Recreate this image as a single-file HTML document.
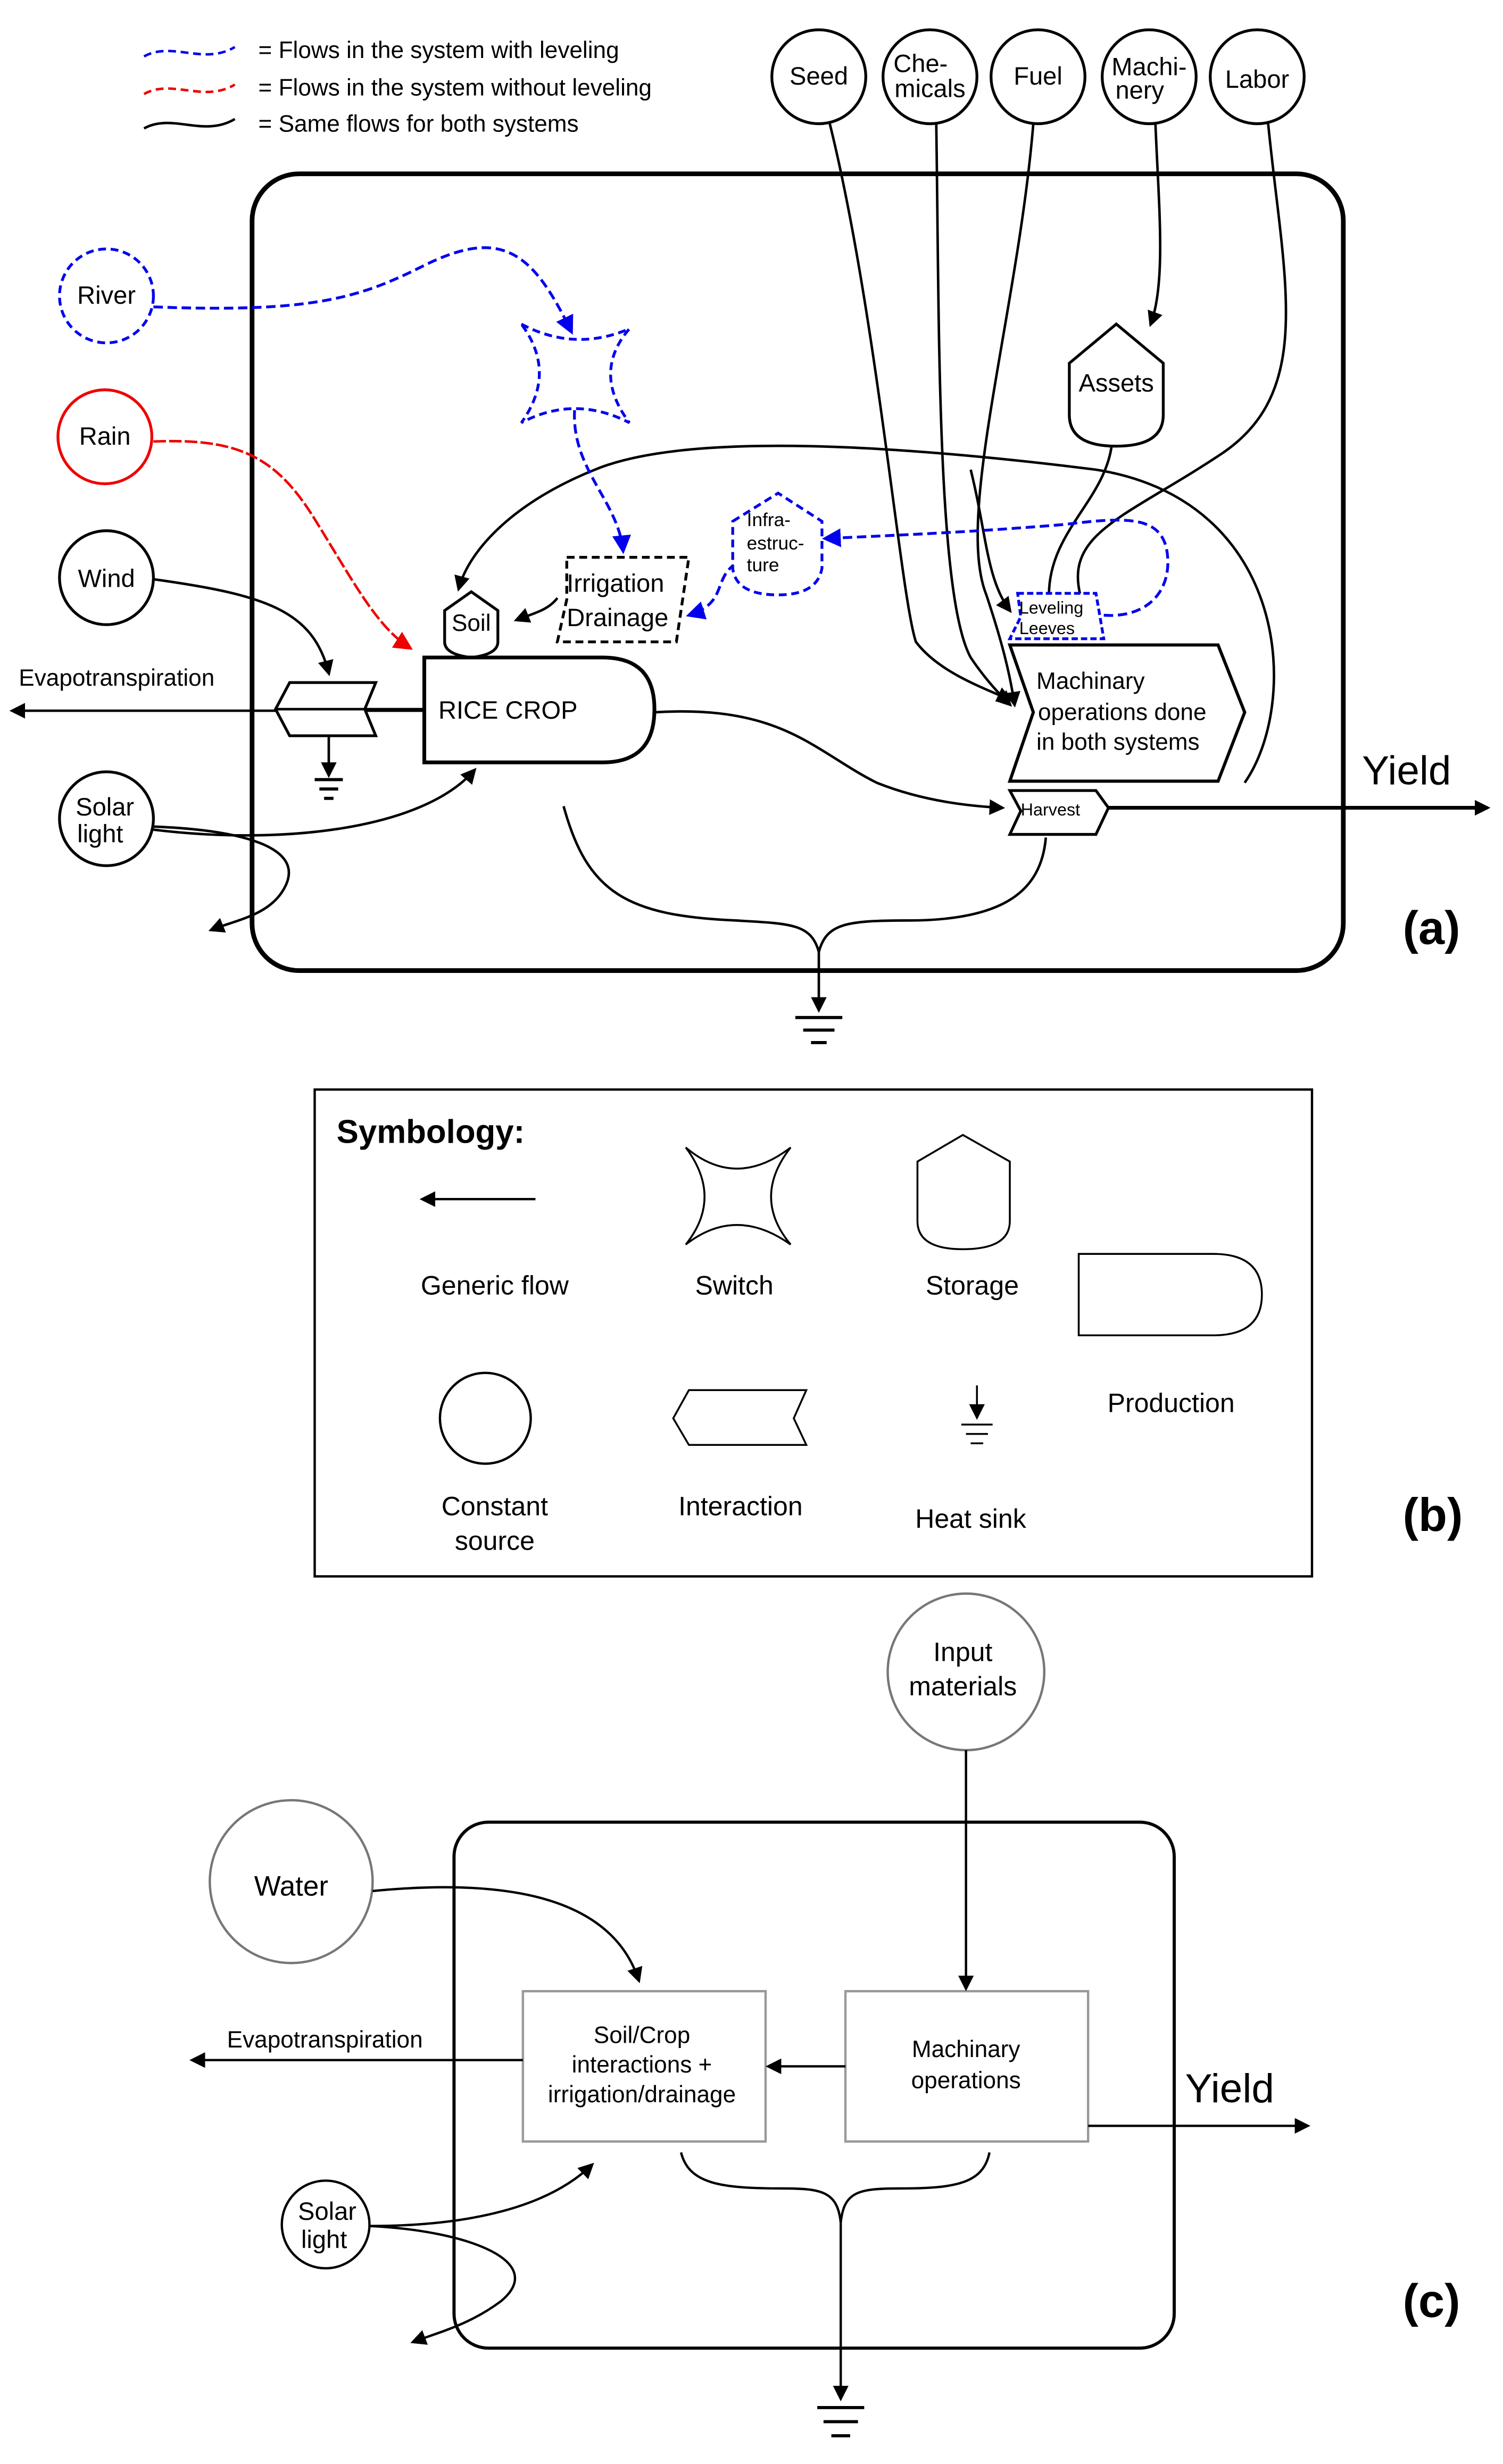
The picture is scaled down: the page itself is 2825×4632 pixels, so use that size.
<!DOCTYPE html>
<html><head><meta charset="utf-8"><style>
html,body{margin:0;padding:0;background:#fff;}
svg{display:block;}
text{font-family:"Liberation Sans",sans-serif;}
</style></head><body>
<svg width="2825" height="4632" viewBox="0 0 960 1574" xmlns="http://www.w3.org/2000/svg">
<defs>
<marker id="ak" markerWidth="10" markerHeight="10" refX="8" refY="5" orient="auto" markerUnits="userSpaceOnUse"><path d="M0,0 L10,5 L0,10 Z" fill="#000"/></marker>
<marker id="ab" markerWidth="12" markerHeight="12" refX="10" refY="6" orient="auto" markerUnits="userSpaceOnUse"><path d="M0,0 L12,6 L0,12 Z" fill="#0000ee"/></marker>
<marker id="ar" markerWidth="12" markerHeight="12" refX="10" refY="6" orient="auto" markerUnits="userSpaceOnUse"><path d="M0,0 L12,6 L0,12 Z" fill="#ee0000"/></marker>
</defs>
<g fill="none" stroke-width="1.6">
<!-- legend -->
<path d="M92,36 C110,26 130,42 150,30" stroke="#0000ee" stroke-dasharray="5,3"/>
<path d="M92,60 C110,50 130,66 150,54" stroke="#ee0000" stroke-dasharray="5,3"/>
<path d="M92,82 C110,72 130,88 150,76" stroke="#000"/>
</g>
<g font-size="15" fill="#000">
<text x="165" y="37">= Flows in the system with leveling</text>
<text x="165" y="61">= Flows in the system without leveling</text>
<text x="165" y="84">= Same flows for both systems</text>
</g>
<!-- main box -->
<rect x="161" y="111" width="697" height="509" rx="30" fill="none" stroke="#000" stroke-width="3"/>
<!-- top circles -->
<g fill="#fff" stroke="#000" stroke-width="1.8">
<circle cx="523" cy="49" r="30"/><circle cx="594" cy="49" r="30"/><circle cx="663" cy="49" r="30"/><circle cx="734" cy="49" r="30"/><circle cx="803" cy="49" r="30"/>
<circle cx="68" cy="369" r="30"/><circle cx="68" cy="523" r="30"/>
</g>
<circle cx="68" cy="189" r="30" fill="#fff" stroke="#0000ee" stroke-width="1.8" stroke-dasharray="5,3"/>
<circle cx="67" cy="279" r="30" fill="#fff" stroke="#ee0000" stroke-width="1.8"/>
<g font-size="16" text-anchor="middle">
<text x="523" y="54">Seed</text>
<text x="588" y="46">Che-</text><text x="594" y="62">micals</text>
<text x="663" y="54">Fuel</text>
<text x="734" y="48">Machi-</text><text x="728" y="63">nery</text>
<text x="803" y="56">Labor</text>
<text x="68" y="194">River</text><text x="67" y="284">Rain</text><text x="68" y="375">Wind</text>
<text x="67" y="521">Solar</text><text x="64" y="538">light</text>
</g>
<!-- black flows from top inputs -->
<g fill="none" stroke="#000" stroke-width="1.6">
<path d="M530,79 C560,200 575,380 585,410 C600,430 630,440 645,447" marker-end="url(#ak)"/>
<path d="M598,79 C600,200 598,380 620,420 C630,435 640,445 645,450" marker-end="url(#ak)"/>
<path d="M660,79 C650,200 610,330 630,380 C640,410 645,430 648,450" marker-end="url(#ak)"/>
<path d="M738,79 C740,130 745,180 735,207" marker-end="url(#ak)"/>
<path d="M810,79 C820,180 840,250 780,290 C720,330 680,340 690,380"/>
<path d="M710,285 C705,320 670,340 670,380"/>
<path d="M620,300 C630,340 630,370 645,390" marker-end="url(#ak)"/>
<!-- big loop to soil -->
<path d="M795,500 C830,450 825,320 700,300 C580,285 440,275 380,300 C330,320 300,350 293,376" marker-end="url(#ak)"/>
<!-- wind -->
<path d="M98,370 C170,380 200,390 210,430" marker-end="url(#ak)"/>
<!-- rice to harvest -->
<path d="M418,455 C500,450 520,480 560,500 C590,512 620,515 640,516" marker-end="url(#ak)"/>
<!-- solar -->
<path d="M98,530 C180,540 270,530 303,492" marker-end="url(#ak)"/>
<path d="M98,528 C150,530 200,540 180,570 C170,585 150,588 135,594" marker-end="url(#ak)"/>
<!-- evapotranspiration -->
<path d="M270,454 L8,454" marker-end="url(#ak)"/>
<!-- drainage to soil -->
<path d="M356,382 C350,390 340,392 330,396" marker-end="url(#ak)"/>
<!-- yield -->
<path d="M708,516 L950,516" stroke-width="2.4" marker-end="url(#ak)"/>
<!-- bottom sinks -->
<path d="M360,515 C375,570 400,585 470,588 C505,590 518,590 523,608"/>
<path d="M668,535 C665,570 640,588 580,588 C540,588 528,590 523,608"/>
<path d="M523,608 L523,645" marker-end="url(#ak)"/>
<path d="M210,470 L210,495" marker-end="url(#ak)"/>
</g>
<g stroke="#000" stroke-width="2">
<line x1="508" y1="650" x2="538" y2="650"/><line x1="513" y1="658" x2="533" y2="658"/><line x1="518" y1="666" x2="528" y2="666"/>
<line x1="201" y1="498" x2="219" y2="498"/><line x1="204" y1="504" x2="216" y2="504"/><line x1="207" y1="510" x2="213" y2="510"/>
</g>
<!-- blue flows -->
<g fill="none" stroke="#0000ee" stroke-width="1.8" stroke-dasharray="6,3">
<path d="M98,196 C200,200 230,190 270,170 C320,145 340,160 365,212" marker-end="url(#ab)"/>
<path d="M367,262 C365,300 395,320 398,352" marker-end="url(#ab)"/>
<path d="M470,360 C455,370 465,385 440,393" marker-end="url(#ab)"/>
<path d="M705,393 C735,395 750,375 745,350 C740,330 720,330 680,335 C620,340 570,342 527,344" marker-end="url(#ab)"/>
</g>
<path d="M98,282 C150,280 175,290 200,330 C225,370 240,400 262,414" fill="none" stroke="#ee0000" stroke-width="1.6" stroke-dasharray="8,2" marker-end="url(#ar)"/>
<!-- switch -->
<path d="M333,207 Q367,225 402,210 Q378,238 402,270 Q367,252 333,270 Q356,238 333,207 Z" fill="#fff" stroke="#0000ee" stroke-width="1.8" stroke-dasharray="5,3"/>
<!-- assets -->
<path d="M683,232 L713,207 L743,232 L743,265 Q743,285 713,285 Q683,285 683,265 Z" fill="#fff" stroke="#000" stroke-width="1.8"/>
<text x="713" y="250" font-size="16" text-anchor="middle">Assets</text>
<!-- infra -->
<path d="M468,333 L497,315 L525,333 L525,363 Q522,380 497,380 Q470,380 468,363 Z" fill="#fff" stroke="#0000ee" stroke-width="1.8" stroke-dasharray="5,3"/>
<g font-size="12"><text x="477" y="336">Infra-</text><text x="477" y="351">estruc-</text><text x="477" y="365">ture</text></g>
<!-- irrigation -->
<path d="M362,356 L440,356 L432,410 L356,410 L362,383 Z" fill="#fff" stroke="#000" stroke-width="1.8" stroke-dasharray="5,3"/>
<g font-size="16"><text x="362" y="378">Irrigation</text><text x="362" y="400">Drainage</text></g>
<!-- soil -->
<path d="M284,390 L301,378 L318,390 L318,410 Q318,418 301,420 Q284,418 284,410 Z" fill="#fff" stroke="#000" stroke-width="1.8"/>
<text x="301" y="403" font-size="15" text-anchor="middle">Soil</text>
<!-- rice crop -->
<path d="M271,420 L385,420 Q418,420 418,453 Q418,487 385,487 L271,487 Z" fill="#fff" stroke="#000" stroke-width="2.4"/>
<text x="280" y="459" font-size="16">RICE CROP</text>
<!-- evapo interaction -->
<path d="M185,436 L240,436 L233,453 L240,470 L185,470 L176,453 Z" fill="#fff" stroke="#000" stroke-width="1.8"/>
<line x1="176" y1="453" x2="270" y2="453" stroke="#000" stroke-width="1.6"/>
<text x="12" y="438" font-size="15">Evapotranspiration</text>
<!-- leveling -->
<path d="M650,379 L700,379 L705,408 L645,408 L652,394 Z" fill="#fff" stroke="#0000ee" stroke-width="1.8" stroke-dasharray="4,2"/>
<g font-size="11"><text x="651" y="392">Leveling</text><text x="651" y="405">Leeves</text></g>
<!-- machinery -->
<path d="M645,412 L778,412 L795,455 L778,499 L645,499 L660,455 Z" fill="#fff" stroke="#000" stroke-width="2"/>
<g font-size="15"><text x="662" y="440">Machinary</text><text x="663" y="460">operations done</text><text x="662" y="479">in both systems</text></g>
<!-- harvest -->
<path d="M645,505 L700,505 L708,516 L700,533 L645,533 L652,518 Z" fill="#fff" stroke="#000" stroke-width="1.8"/>
<text x="652" y="521" font-size="11">Harvest</text>
<text x="870" y="501" font-size="26">Yield</text>
<text x="896" y="603" font-size="30" font-weight="bold" font-family="Liberation Serif">(a)</text>

<!-- (b) -->
<rect x="201" y="696" width="637" height="311" fill="none" stroke="#000" stroke-width="1.5"/>
<text x="215" y="730" font-size="21" font-weight="bold">Symbology:</text>
<path d="M342,766 L270,766" stroke="#000" stroke-width="1.5" marker-end="url(#ak)"/>
<path d="M438,733 Q470,760 505,733 Q480,765 505,795 Q470,770 438,795 Q462,765 438,733 Z" fill="#fff" stroke="#000" stroke-width="1.2"/>
<path d="M586,742 L615,725 L645,742 L645,780 Q645,798 615,798 Q586,798 586,780 Z" fill="#fff" stroke="#000" stroke-width="1.2"/>
<path d="M689,801 L775,801 Q806,801 806,827 Q806,853 775,853 L689,853 Z" fill="#fff" stroke="#000" stroke-width="1.2"/>
<circle cx="310" cy="906" r="29" fill="#fff" stroke="#000" stroke-width="1.5"/>
<path d="M440,888 L515,888 L507,906 L515,923 L440,923 L430,906 Z" fill="#fff" stroke="#000" stroke-width="1.2"/>
<path d="M624,885 L624,905" stroke="#000" stroke-width="1.2" marker-end="url(#ak)"/>
<g stroke="#000" stroke-width="1.2"><line x1="614" y1="910" x2="634" y2="910"/><line x1="617" y1="916" x2="631" y2="916"/><line x1="620" y1="922" x2="628" y2="922"/></g>
<g font-size="17" text-anchor="middle">
<text x="316" y="827">Generic flow</text><text x="469" y="827">Switch</text><text x="621" y="827">Storage</text>
<text x="748" y="902">Production</text>
<text x="316" y="968">Constant</text><text x="316" y="990">source</text>
<text x="473" y="968">Interaction</text><text x="620" y="976">Heat sink</text>
</g>
<text x="896" y="978" font-size="30" font-weight="bold" font-family="Liberation Serif">(b)</text>

<!-- (c) -->
<rect x="290" y="1164" width="460" height="336" rx="22" fill="none" stroke="#000" stroke-width="2"/>
<circle cx="617" cy="1068" r="50" fill="#fff" stroke="#777" stroke-width="1.5"/>
<circle cx="186" cy="1202" r="52" fill="#fff" stroke="#777" stroke-width="1.5"/>
<circle cx="208" cy="1421" r="28" fill="#fff" stroke="#000" stroke-width="1.5"/>
<rect x="334" y="1272" width="155" height="96" fill="#fff" stroke="#999" stroke-width="1.5"/>
<rect x="540" y="1272" width="155" height="96" fill="#fff" stroke="#999" stroke-width="1.5"/>
<g fill="none" stroke="#000" stroke-width="1.5">
<path d="M617,1118 L617,1270" marker-end="url(#ak)"/>
<path d="M238,1208 C320,1200 390,1210 408,1265" marker-end="url(#ak)"/>
<path d="M540,1320 L491,1320" marker-end="url(#ak)"/>
<path d="M334,1316 L123,1316" marker-end="url(#ak)"/>
<path d="M695,1358 L835,1358" marker-end="url(#ak)"/>
<path d="M236,1422 C300,1422 350,1410 378,1383" marker-end="url(#ak)"/>
<path d="M236,1422 C300,1425 350,1445 320,1470 C300,1485 280,1490 264,1496" marker-end="url(#ak)"/>
<path d="M435,1375 C440,1395 460,1398 500,1398 C525,1398 535,1400 537,1420"/>
<path d="M632,1375 C628,1395 610,1398 575,1398 C548,1398 539,1400 537,1420"/>
<path d="M537,1420 L537,1532" marker-end="url(#ak)"/>
</g>
<g stroke="#000" stroke-width="2"><line x1="522" y1="1538" x2="552" y2="1538"/><line x1="526" y1="1547" x2="548" y2="1547"/><line x1="531" y1="1556" x2="543" y2="1556"/></g>
<g text-anchor="middle" font-size="16">
<text x="615" y="1061" font-size="17">Input</text><text x="615" y="1083" font-size="17">materials</text>
<text x="186" y="1211" font-size="18">Water</text>
<text x="410" y="1305" font-size="15">Soil/Crop</text><text x="410" y="1324" font-size="15">interactions +</text><text x="410" y="1343" font-size="15">irrigation/drainage</text>
<text x="617" y="1314" font-size="15">Machinary</text><text x="617" y="1334" font-size="15">operations</text>
<text x="209" y="1418">Solar</text><text x="207" y="1436">light</text>
</g>
<text x="145" y="1308" font-size="15">Evapotranspiration</text>
<text x="757" y="1343" font-size="26">Yield</text>
<text x="896" y="1480" font-size="30" font-weight="bold" font-family="Liberation Serif">(c)</text>
</svg>
</body></html>
